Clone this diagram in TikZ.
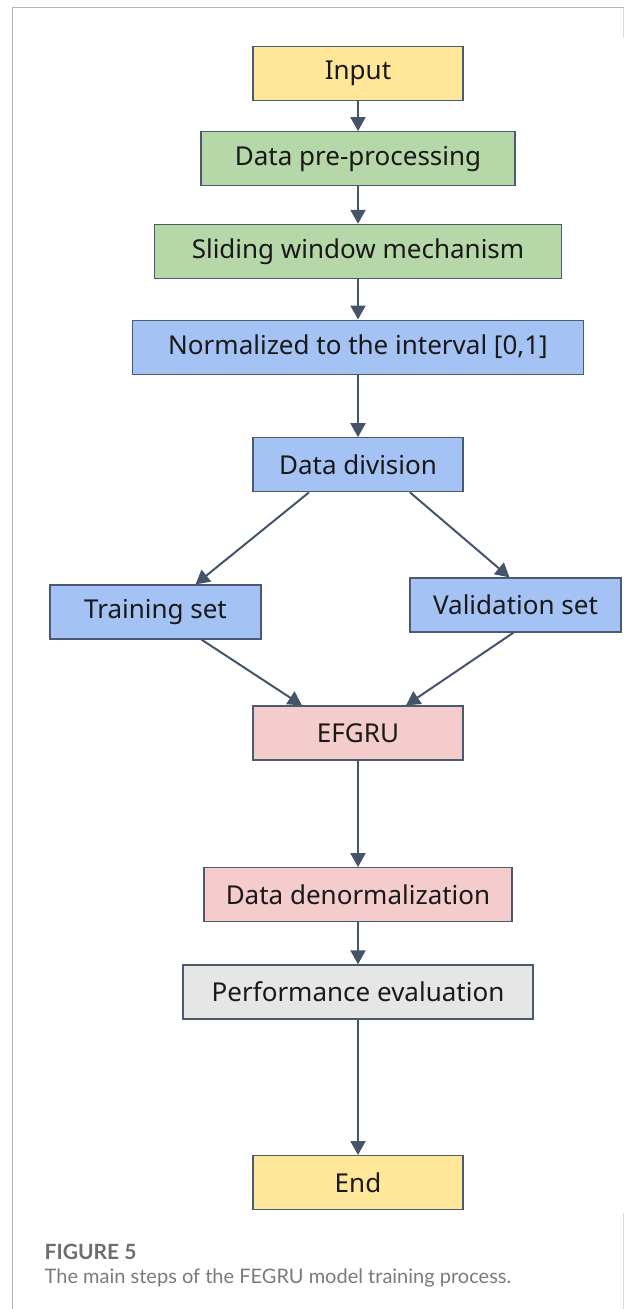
\documentclass[tikz,border=0pt]{standalone}
\usepackage{fontspec}
\setmainfont{Noto Sans}
\newfontfamily\capfont{Lato}
\usetikzlibrary{arrows.meta,positioning,calc}

\definecolor{boxline}{HTML}{4A5A70}
\definecolor{arrowc}{HTML}{44546A}
\definecolor{inyellow}{HTML}{FFE699}
\definecolor{prepgreen}{HTML}{B6D7A8}
\definecolor{datablue}{HTML}{A4C2F4}
\definecolor{modelpink}{HTML}{F4CCCC}
\definecolor{evalgrey}{HTML}{E6E6E6}
\definecolor{framegrey}{HTML}{B4B4B4}
\definecolor{capgrey}{HTML}{7A7A7A}

\begin{document}
\begin{tikzpicture}[
  x=1pt, y=-1pt,
  font=\fontsize{26}{30}\selectfont,
  stage/.style={draw=boxline, line width=1.2pt, minimum height=54pt, inner sep=0pt, text=black!90},
  flow/.style={draw=arrowc, line width=2pt, -{Triangle[length=14pt,width=15pt]}},
  caption/.style={anchor=base west, inner sep=0pt, font=\capfont\fontsize{20}{24}\selectfont}
]
\useasboundingbox (0,0) rectangle (624,1309);

% frame round the figure
\draw[framegrey, line width=1.3pt] (12.5,1309) -- (12.5,7.5) -- (624,7.5);
\draw[framegrey!50, line width=1.3pt] (623.5,7.5) -- (623.5,38);
\draw[framegrey!50, line width=1.3pt] (623.5,1213) -- (623.5,1309);

% main column
\node[stage, fill=inyellow, minimum width=210pt] (input) at (358,73.5) {Input};
\node[stage, fill=prepgreen, minimum width=314pt, below=30pt of input] (prep) {Data pre-processing};
\node[stage, fill=prepgreen, minimum width=407pt, below=37.5pt of prep] (window) {Sliding window mechanism};
\node[stage, fill=datablue, minimum width=451pt, below=40.5pt of window] (norm) {Normalized to the interval [0,1]};
\node[stage, fill=datablue, minimum width=210pt, below=62.5pt of norm] (division) {Data division};

% the two sets
\node[stage, fill=datablue, minimum width=211pt] (train) at (155.5,612) {Training set};
\node[stage, fill=datablue, minimum width=211pt] (valid) at (515.5,605) {Validation set};

\node[stage, fill=modelpink, minimum width=210pt] (efgru) at (358,733) {EFGRU};
\node[stage, fill=modelpink, minimum width=308pt, below=106.5pt of efgru] (denorm) {Data denormalization};
\node[stage, fill=evalgrey, minimum width=350pt, below=42pt of denorm] (perf) {Performance evaluation};
\node[stage, fill=inyellow, minimum width=210pt, below=135.5pt of perf] (finish) {End};

\draw[flow] (input) -- (prep);
\draw[flow] (prep) -- (window);
\draw[flow] (window) -- (norm);
\draw[flow] (norm) -- (division);
\draw[flow] ([xshift=-49pt]division.south) -- ([xshift=40pt]train.north);
\draw[flow] ([xshift=52pt]division.south) -- ([xshift=-6pt]valid.north);
\draw[flow] ([xshift=46pt]train.south) -- ([xshift=-56pt]efgru.north);
\draw[flow] ([xshift=-2pt]valid.south) -- ([xshift=48pt]efgru.north);
\draw[flow] (efgru) -- (denorm);
\draw[flow] (denorm) -- (perf);
\draw[flow] (perf) -- (finish);

% caption
\node[caption, text=capgrey!90!black, font=\capfont\bfseries\fontsize{21}{24}\selectfont] (fignum) at (44.5,1259) {FIGURE 5};
\node[caption, text=capgrey] (figtext) at (44.5,1283) {The main steps of the FEGRU model training process.};
\end{tikzpicture}
\end{document}
